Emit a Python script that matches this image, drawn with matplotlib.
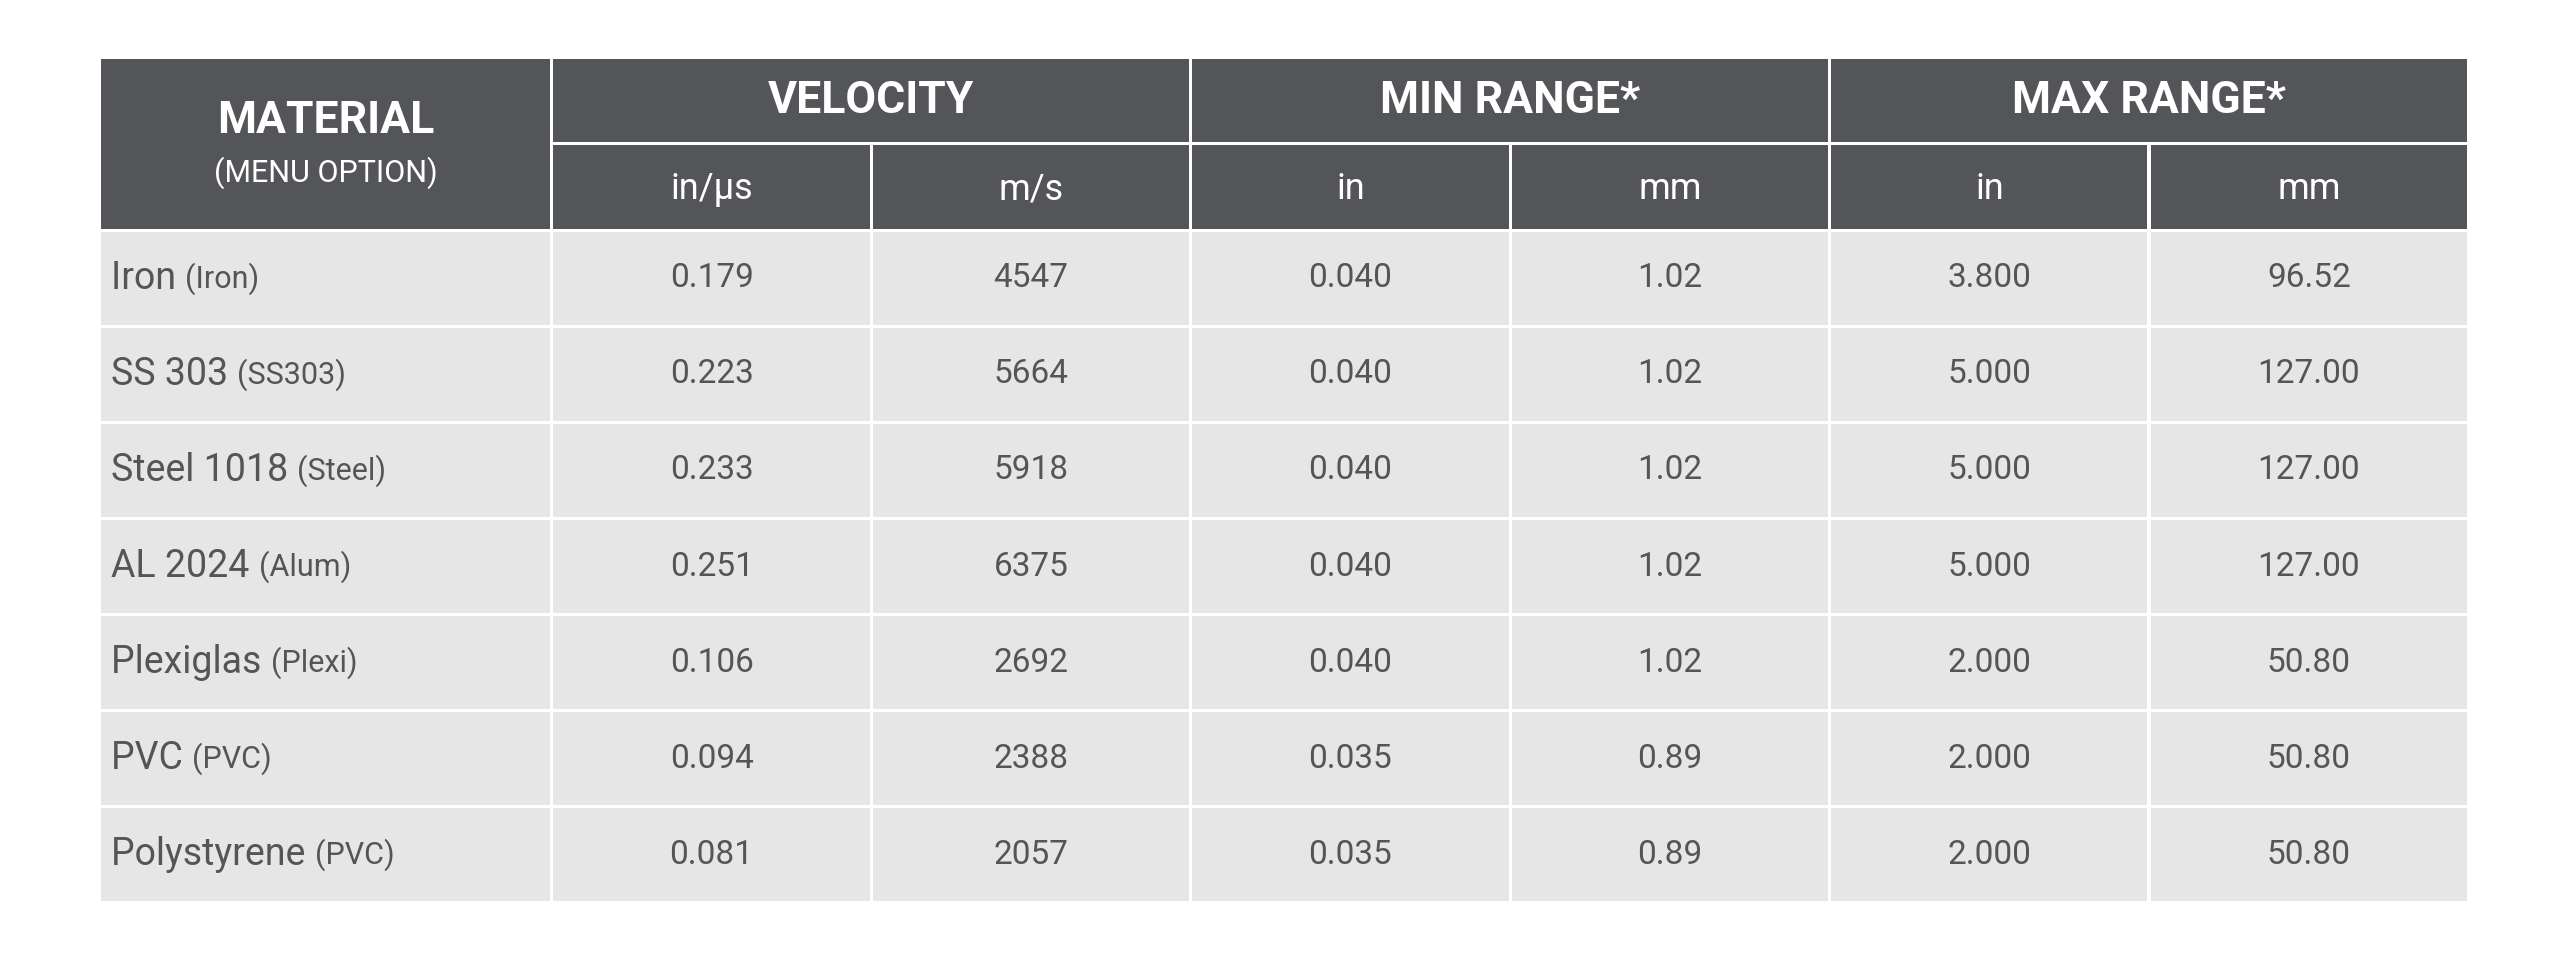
import matplotlib
matplotlib.use("Agg")
import matplotlib.pyplot as plt
from matplotlib.patches import Rectangle

materials = ["Iron", "SS 303", "Steel 1018", "AL 2024", "Plexiglas", "PVC", "Polystyrene"]
menu = ["Iron", "SS303", "Steel", "Alum", "Plexi", "PVC", "PVC"]
vel_in = ["0.179", "0.223", "0.233", "0.251", "0.106", "0.094", "0.081"]
vel_ms = ["4547", "5664", "5918", "6375", "2692", "2388", "2057"]
min_in = ["0.040", "0.040", "0.040", "0.040", "0.040", "0.035", "0.035"]
min_mm = ["1.02", "1.02", "1.02", "1.02", "1.02", "0.89", "0.89"]
max_in = ["3.800", "5.000", "5.000", "5.000", "2.000", "2.000", "2.000"]
max_mm = ["96.52", "127.00", "127.00", "127.00", "50.80", "50.80", "50.80"]
groups = ["VELOCITY", "MIN RANGE*", "MAX RANGE*"]
units = ["in/µs", "m/s", "in", "mm", "in", "mm"]

S = 2560 / 1568
fig = plt.figure(figsize=(25.6, 9.6), dpi=100)
ax = fig.add_axes([0, 0, 1, 1])
ax.set_xlim(0, 1568); ax.set_ylim(588, 0); ax.axis("off")
HEAD = "#545558"; BODY = "#e6e6e7"; TXT = "#555555"
FONT = "Roboto"
g = 2.0
x0, x1 = 62, 337
cw = (1513 - 339) / 6.0
colx = [339 + i * cw for i in range(7)]

def rect(xa, ya, xb, yb, c):
    ax.add_patch(Rectangle((xa, ya), xb - xa, yb - ya, color=c, lw=0))

# header
rect(x0, 36, x1, 140, HEAD)
ax.text((x0 + x1) / 2, 74, "MATERIAL", ha="center", va="center", color="white",
        fontsize=32, fontweight="bold", family=FONT)
ax.text((x0 + x1) / 2, 106, "(MENU OPTION)", ha="center", va="center", color="white",
        fontsize=22, family=FONT)
for i, gname in enumerate(groups):
    xa, xb = colx[2 * i], colx[2 * i + 2] - g
    rect(xa, 36, xb, 87, HEAD)
    ax.text((xa + xb) / 2, 62, gname, ha="center", va="center", color="white",
            fontsize=32, fontweight="bold", family=FONT)
for j, u in enumerate(units):
    xa, xb = colx[j], colx[j + 1] - g
    rect(xa, 89, xb, 140, HEAD)
    ax.text((xa + xb) / 2, 116, u, ha="center", va="center", color="white",
            fontsize=26, family=FONT)

cols = [vel_in, vel_ms, min_in, min_mm, max_in, max_mm]
rh = (552 - 142 + g) / 7.0
for r in range(len(materials)):
    ya = 142 + r * rh; yb = ya + rh - g; yc = (ya + yb) / 2
    rect(x0, ya, x1, yb, BODY)
    t = ax.text(68, yc, materials[r] + " ", ha="left", va="center", color=TXT,
                fontsize=27, family=FONT)
    ax.annotate("(" + menu[r] + ")", xycoords=t, xy=(1, 0.5), va="center", ha="left",
                color=TXT, fontsize=22, family=FONT)
    for j, col in enumerate(cols):
        xa, xb = colx[j], colx[j + 1] - g
        rect(xa, ya, xb, yb, BODY)
        ax.text((xa + xb) / 2, yc, col[r], ha="center", va="center", color=TXT,
                fontsize=24, family=FONT)

fig.savefig("out.png", dpi=100, facecolor="white")
